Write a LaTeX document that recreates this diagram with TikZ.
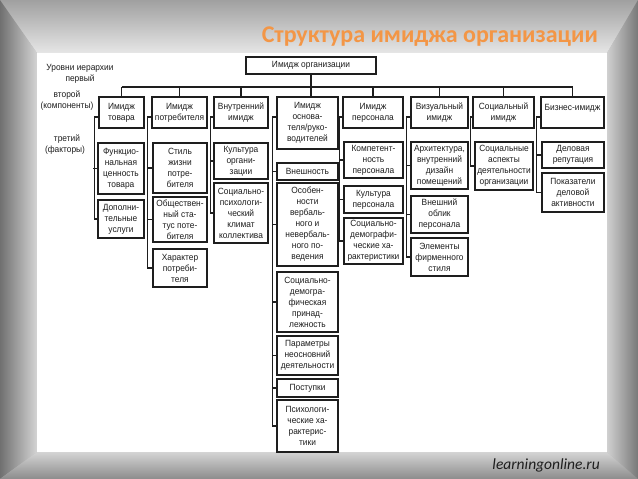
\documentclass[tikz,border=0pt]{standalone}
\usepackage{fontspec}
\setmainfont{Liberation Sans}
\newfontfamily\dfont[FakeStretch=0.93]{Liberation Sans}
\newfontfamily\tfont{Carlito}
\definecolor{titleorange}{RGB}{243,150,70}
\definecolor{ink}{RGB}{30,30,30}
\tikzset{
  box/.style={draw=ink, line width=1.6pt, inner sep=0pt, align=center, text=ink,
    font=\dfont\fontsize{9}{11}\selectfont},
  lbl/.style={inner sep=0pt, align=center, text=ink, font=\dfont\fontsize{9}{11}\selectfont},
  conn/.style={draw=ink, line width=1.1pt}
}
\newcommand\bx[6]{%
  \pgfmathsetmacro\bxw{#4-#2}\pgfmathsetmacro\bxh{#5-#3}%
  \pgfmathsetmacro\bxcx{(#2+#4)/2}\pgfmathsetmacro\bxcy{(#3+#5)/2}%
  \node[box, minimum width=\bxw pt, minimum height=\bxh pt] (#1) at (\bxcx,\bxcy) {#6};}
\begin{document}
\begin{tikzpicture}[x=1pt,y=-1pt]
\useasboundingbox (0,0) rectangle (638,479);
% frame
\fill[gray!60] (0,0) rectangle (638,479);
\shade[top color={rgb,255:red,160;green,160;blue,160}, bottom color={rgb,255:red,230;green,230;blue,230}]
  (0,0) -- (638,0) -- (607,53) -- (37,53) -- cycle;
\shade[left color={rgb,255:red,112;green,112;blue,112}, right color={rgb,255:red,212;green,212;blue,212}]
  (0,0) -- (37,53) -- (37,452) -- (0,479) -- cycle;
\shade[top color={rgb,255:red,212;green,212;blue,212}, bottom color={rgb,255:red,140;green,140;blue,140}]
  (0,479) -- (37,452) -- (607,452) -- (638,479) -- cycle;
\shade[left color={rgb,255:red,208;green,208;blue,208}, right color={rgb,255:red,120;green,120;blue,120}]
  (638,0) -- (607,53) -- (607,452) -- (638,479) -- cycle;
\fill[white] (37,53) rectangle (607,452);
% title and footer
\node[anchor=base east, text=titleorange, inner sep=0pt, font=\tfont\bfseries\fontsize{24}{27}\selectfont] (title) at (598,42) {Структура имиджа организации};
\node[anchor=base east, text=ink, inner sep=0pt, font=\tfont\itshape\fontsize{15.5}{18}\selectfont] (foot) at (600,469) {learningonline.ru};
% level labels
\node[lbl] (l1) at (80,68) {Уровни иерархии};
\node[lbl] (l2) at (80,79) {первый};
\node[lbl] (l3) at (67,95) {второй};
\node[lbl] (l4) at (67,106) {(компоненты)};
\node[lbl] (l5) at (67,139) {третий};
\node[lbl] (l6) at (65,150) {(факторы)};
% top
\bx{org}{246}{57}{376}{74}{Имидж организации}
% level 2
\bx{t1}{99}{97}{144}{128}{Имидж\\товара}
\bx{t2}{152}{97}{207}{128}{Имидж\\потребителя}
\bx{t3}{214}{97}{268}{128}{Внутренний\\имидж}
\bx{t4}{277}{97}{338}{149}{Имидж\\основа-\\теля/руко-\\водителей}
\bx{t5}{343}{97}{403}{128}{Имидж\\персонала}
\bx{t6}{411}{97}{468}{128}{Визуальный\\имидж}
\bx{t7}{473}{97}{534}{128}{Социальный\\имидж}
\bx{t8}{541}{97}{604}{128}{Бизнес-имидж\\\mbox{}}
% level 3
\bx{c1a}{98}{143}{144}{194}{Функцио-\\нальная\\ценность\\товара}
\bx{c1b}{98}{200}{144}{238}{Дополни-\\тельные\\услуги}
\bx{c2a}{153}{143}{207}{193}{Стиль\\жизни\\потре-\\бителя}
\bx{c2b}{153}{197}{207}{242}{Обществен-\\ный ста-\\тус поте-\\бителя}
\bx{c2c}{153}{249}{207}{287}{Характер\\потреби-\\теля}
\bx{c3a}{214}{143}{268}{179}{Культура\\органи-\\зации}
\bx{c3b}{214}{183}{268}{243}{Социально-\\психологи-\\ческий\\климат\\коллектива}
\bx{c4a}{277}{163}{338}{180}{Внешность}
\bx{c4b}{277}{183}{338}{266}{Особен-\\ности\\вербаль-\\ного и\\невербаль-\\ного по-\\ведения}
\bx{c4c}{277}{272}{338}{332}{Социально-\\демогра-\\фическая\\принад-\\лежность}
\bx{c4d}{277}{336}{338}{375}{Параметры\\неосновний\\деятельности}
\bx{c4e}{277}{379}{338}{397}{Поступки}
\bx{c4f}{277}{400}{338}{452}{Психологи-\\ческие ха-\\рактерис-\\тики}
\bx{c5a}{344}{142}{403}{178}{Компетент-\\ность\\персонала}
\bx{c5b}{344}{186}{403}{213}{Культура\\персонала}
\bx{c5c}{344}{218}{403}{264}{Социально-\\демографи-\\ческие ха-\\рактеристики}
\bx{c6a}{411}{142}{468}{189}{Архитектура,\\внутренний\\дизайн\\помещений}
\bx{c6b}{411}{196}{468}{233}{Внешний\\облик\\персонала}
\bx{c6c}{411}{238}{468}{276}{Элементы\\фирменного\\стиля}
\bx{c7a}{475}{142}{533}{190}{Социальные\\аспекты\\деятельности\\организации}
\bx{c8a}{542}{142}{604}{168}{Деловая\\репутация}
\bx{c8b}{542}{173}{604}{212}{Показатели\\деловой\\активности}
% bus
\coordinate (bus) at (0,87);
\coordinate (tk) at (0,117);
\draw[conn] (org.south) -- (org.south |- bus);
\draw[conn] (t1.north |- bus) -- (t8.north |- bus);
\foreach \t in {t1,t2,t3,t5,t6,t7,t8}{\draw[conn] (\t.north |- bus) -- (\t.north);}
\draw[conn] (org.south |- bus) -- (org.south |- t4.north);
% brackets
\draw[conn] (t1.west |- tk) -- ++(-4,0) |- (c1b.west);
\draw[conn] (c1a.west) -- ++(-4,0);
\draw[conn] (t2.west |- tk) -- ++(-4,0) |- (c2c.west);
\foreach \c in {c2a,c2b}{\draw[conn] (\c.west) -- ++(-4,0);}
\draw[conn] (t3.west |- tk) -- ++(-3,0) |- (c3b.west);
\draw[conn] (c3a.west) -- ++(-3,0);
\draw[conn] (t4.west |- tk) -- ++(-4,0) |- (c4f.west);
\foreach \c in {c4a,c4b,c4c,c4d,c4e}{\draw[conn] (\c.west) -- ++(-4,0);}
\draw[conn] (t5.west |- tk) -- ++(-3,0) |- (c5c.west);
\foreach \c in {c5a,c5b}{\draw[conn] (\c.west) -- ++(-3,0);}
\draw[conn] (t6.west |- tk) -- ++(-4,0) |- (c6c.west);
\foreach \c in {c6a,c6b}{\draw[conn] (\c.west) -- ++(-4,0);}
\draw[conn] (t7.west |- tk) -- ++(-2,0) |- (c7a.west);
\draw[conn] (t8.west |- tk) -- ++(-4,0) |- (c8b.west);
\draw[conn] (c8a.west) -- ++(-4,0);
\end{tikzpicture}
\end{document}
